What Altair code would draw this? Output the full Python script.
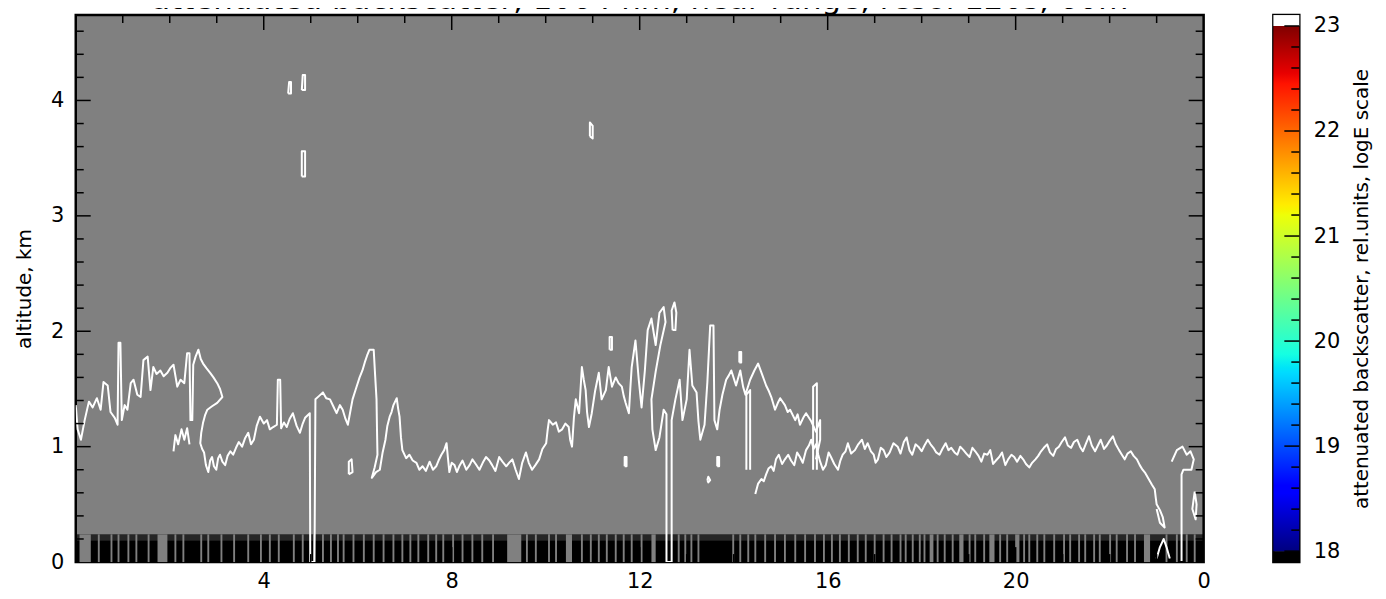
import altair as alt
import pandas as pd

TITLE = "attenuated backscatter, 1064 nm, near range, resol 120s, 60m"
Y_TITLE = "altitude, km"
CB_TITLE = "attenuated backscatter, rel.units, logE scale"

X_DOMAIN = [0, 24]
Y_DOMAIN = [0, 4.74]
CB_DOMAIN = [17.896, 23.104]

x_major = [0, 4, 8, 12, 16, 20, 24]
x_minor = [1, 2, 3, 5, 6, 7, 9, 10, 11, 13, 14, 15, 17, 18, 19, 21, 22, 23]
y_major = [0, 1, 2, 3, 4]
y_minor = [0.2, 0.4, 0.6, 0.8, 1.2, 1.4, 1.6, 1.8, 2.2, 2.4, 2.6, 2.8,
           3.2, 3.4, 3.6, 3.8, 4.2, 4.4, 4.6]
cb_major = [18, 19, 20, 21, 22, 23]
cb_minor = [18.2, 18.4, 18.6, 18.8, 19.2, 19.4, 19.6, 19.8, 20.2, 20.4, 20.6, 20.8,
            21.2, 21.4, 21.6, 21.8, 22.2, 22.4, 22.6, 22.8]

# near-ground strip of low (black) values, with gray (missing) columns
strip_top = 0.24
strip_fade = 0.19
gap_centers = [0.49, 0.76, 0.91, 1.12, 1.29, 1.55, 2.12, 2.29, 2.67, 2.82, 3.10, 3.37,
               3.67, 3.94, 4.13, 4.32, 4.64, 4.83, 5.07, 5.26, 5.43, 5.58, 5.70, 5.91,
               6.13, 6.34, 6.55, 6.76, 6.95, 7.12, 7.29, 7.50, 7.67, 7.82, 8.03, 8.23,
               8.44, 8.65, 8.88, 9.60, 9.79, 10.07, 10.22, 10.77, 10.96, 11.13, 11.30,
               11.49, 11.66, 11.83, 12.04, 12.83, 12.97, 13.10, 13.25, 13.99, 14.14,
               14.31, 14.46, 14.67, 14.88, 15.09, 15.31, 15.52, 15.73, 15.92, 16.09,
               16.26, 16.45, 16.64, 16.81, 17.00, 17.19, 17.36, 17.55, 17.66, 17.81,
               17.96, 18.06, 18.34, 18.49, 18.66, 19.02, 19.14, 19.33, 19.67, 19.82,
               20.18, 20.29, 20.46, 20.61, 20.82, 21.03, 21.16, 21.35, 21.48, 21.67,
               21.79, 22.01, 22.15, 22.37, 22.54, 23.21, 23.43, 23.64, 23.81]
gap_width = 0.04
wide_gap_start = [0.08, 1.74, 9.18, 10.43, 12.25, 18.17, 18.80, 19.44, 19.99, 22.73]
wide_gap_end = [0.32, 1.95, 9.48, 10.56, 12.34, 18.25, 18.89, 19.55, 20.08, 22.86]

# contour lines (hour, km)
contour_upper = [
    (0.00, 1.36), (0.04, 1.15), (0.11, 1.06), (0.19, 1.23), (0.28, 1.39), (0.36, 1.34),
    (0.45, 1.42), (0.53, 1.32), (0.59, 1.56), (0.68, 1.53), (0.74, 1.30), (0.83, 1.25),
    (0.89, 1.19), (0.91, 1.90), (0.95, 1.90), (0.98, 1.23), (1.04, 1.36), (1.10, 1.32),
    (1.17, 1.55), (1.23, 1.58), (1.31, 1.45), (1.38, 1.43), (1.44, 1.75), (1.53, 1.78),
    (1.59, 1.49), (1.65, 1.69), (1.72, 1.63), (1.80, 1.66), (1.87, 1.61), (1.95, 1.64),
    (2.01, 1.68), (2.08, 1.71), (2.16, 1.52), (2.23, 1.58), (2.31, 1.55), (2.37, 1.81),
    (2.42, 1.81), (2.44, 1.23), (2.48, 1.23), (2.50, 1.71), (2.55, 1.78), (2.61, 1.84),
    (2.66, 1.76), (2.71, 1.72), (2.78, 1.68), (2.86, 1.64), (2.93, 1.60), (3.01, 1.55),
    (3.07, 1.50), (3.12, 1.43), (3.01, 1.38), (2.90, 1.35), (2.80, 1.32), (2.75, 1.27),
    (2.71, 1.21), (2.67, 1.12), (2.65, 1.03), (2.69, 0.98), (2.73, 0.95), (2.77, 0.84),
    (2.82, 0.78), (2.86, 0.88), (2.90, 0.91), (2.94, 0.83), (2.99, 0.80), (3.03, 0.90),
    (3.07, 0.93), (3.12, 0.87), (3.18, 0.84), (3.23, 0.92), (3.29, 0.96), (3.35, 0.93),
    (3.41, 0.99), (3.47, 1.04), (3.54, 1.00), (3.60, 1.07), (3.67, 1.12), (3.73, 1.02),
    (3.79, 1.06), (3.85, 1.18), (3.92, 1.26), (4.00, 1.20), (4.07, 1.23), (4.13, 1.15),
    (4.20, 1.17), (4.28, 1.19), (4.30, 1.58), (4.35, 1.58), (4.37, 1.16), (4.43, 1.21),
    (4.49, 1.17), (4.55, 1.24), (4.62, 1.29), (4.70, 1.18), (4.77, 1.12), (4.83, 1.20),
    (4.88, 1.25), (4.98, 1.29), (4.99, 0.00), (5.08, 0.00), (5.10, 1.41), (5.18, 1.44),
    (5.26, 1.47), (5.33, 1.42), (5.41, 1.41), (5.48, 1.35), (5.55, 1.29), (5.62, 1.36),
    (5.68, 1.32), (5.74, 1.24), (5.79, 1.19), (5.84, 1.30), (5.89, 1.41), (5.96, 1.50),
    (6.04, 1.60), (6.10, 1.66), (6.15, 1.73), (6.20, 1.79), (6.25, 1.84), (6.34, 1.84),
    (6.37, 1.62), (6.40, 1.41), (6.41, 1.15), (6.42, 0.93), (6.36, 0.82), (6.30, 0.73),
    (6.39, 0.78), (6.47, 0.80), (6.53, 0.95), (6.59, 1.06), (6.63, 1.18), (6.68, 1.26),
    (6.72, 1.30), (6.76, 1.36), (6.83, 1.42), (6.86, 1.33), (6.89, 1.26), (6.92, 1.08),
    (6.95, 0.97), (7.03, 0.90), (7.10, 0.93), (7.17, 0.88), (7.25, 0.86), (7.31, 0.80),
    (7.38, 0.83), (7.45, 0.79), (7.53, 0.87), (7.60, 0.80), (7.67, 0.83), (7.72, 0.88),
    (7.78, 0.93), (7.84, 0.97), (7.89, 1.03), (7.92, 0.90), (7.95, 0.78), (8.00, 0.86),
    (8.06, 0.84), (8.11, 0.78), (8.16, 0.83), (8.23, 0.88), (8.31, 0.80), (8.38, 0.84),
    (8.44, 0.89), (8.51, 0.85), (8.59, 0.80), (8.66, 0.86), (8.73, 0.91), (8.80, 0.88),
    (8.86, 0.84), (8.93, 0.79), (9.01, 0.91), (9.08, 0.87), (9.16, 0.83), (9.22, 0.86),
    (9.29, 0.89), (9.36, 0.80), (9.43, 0.72), (9.50, 0.86), (9.58, 0.95), (9.64, 0.86),
    (9.71, 0.80), (9.78, 0.84), (9.86, 0.89), (9.93, 0.98), (10.01, 1.03), (10.04, 1.14),
    (10.07, 1.23), (10.15, 1.19), (10.22, 1.21), (10.28, 1.13), (10.35, 1.15),
    (10.42, 1.20), (10.49, 1.17), (10.52, 1.06), (10.56, 1.00), (10.60, 1.25),
    (10.64, 1.41), (10.71, 1.29), (10.77, 1.69), (10.81, 1.58), (10.85, 1.49),
    (10.88, 1.30), (10.92, 1.17), (10.98, 1.29), (11.05, 1.48), (11.13, 1.64),
    (11.19, 1.41), (11.28, 1.49), (11.34, 1.69), (11.41, 1.52), (11.49, 1.60),
    (11.55, 1.55), (11.62, 1.52), (11.66, 1.44), (11.70, 1.38), (11.77, 1.29),
    (11.80, 1.50), (11.83, 1.69), (11.91, 1.92), (11.98, 1.58), (12.04, 1.34),
    (12.11, 1.66), (12.17, 2.01), (12.25, 2.11), (12.34, 1.88), (12.42, 2.16),
    (12.51, 2.21), (12.55, 2.08), (12.44, 1.88), (12.34, 1.65), (12.25, 1.41),
    (12.27, 1.15), (12.34, 0.97), (12.42, 1.08), (12.51, 1.32), (12.57, 1.28),
    (12.57, 0.00), (12.68, 0.00), (12.68, 1.23), (12.76, 1.41), (12.85, 1.58),
    (12.91, 1.23), (13.00, 1.41), (13.06, 1.84), (13.12, 1.53), (13.21, 1.47),
    (13.25, 1.22), (13.29, 1.06), (13.38, 1.19), (13.44, 1.56), (13.50, 2.05),
    (13.57, 2.05), (13.59, 1.23), (13.65, 1.15), (13.70, 1.32), (13.76, 1.45),
    (13.84, 1.58), (13.90, 1.62), (13.95, 1.66), (14.05, 1.53), (14.14, 1.66),
    (14.20, 1.52), (14.25, 1.45), (14.35, 1.58), (14.44, 1.66), (14.52, 1.72),
    (14.61, 1.62), (14.69, 1.53), (14.75, 1.48), (14.80, 1.43), (14.88, 1.32),
    (14.94, 1.38), (14.99, 1.42), (15.09, 1.36), (15.15, 1.30), (15.20, 1.32),
    (15.31, 1.23), (15.36, 1.28), (15.41, 1.19), (15.48, 1.25), (15.54, 1.29),
    (15.65, 1.22), (15.75, 1.13), (15.84, 1.23), (15.84, 1.06), (15.75, 0.89),
]
contour_lower = [
    (14.46, 0.59), (14.52, 0.68), (14.59, 0.72), (14.64, 0.70), (14.69, 0.76),
    (14.74, 0.81), (14.80, 0.83), (14.85, 0.79), (14.90, 0.89), (14.96, 0.93),
    (15.03, 0.85), (15.09, 0.89), (15.16, 0.93), (15.22, 0.88), (15.29, 0.84),
    (15.35, 0.95), (15.41, 0.91), (15.47, 0.86), (15.54, 0.97), (15.60, 1.01),
    (15.65, 1.06), (15.70, 0.98), (15.75, 1.02), (15.80, 0.93), (15.84, 0.87),
    (15.90, 0.80), (15.96, 0.84), (16.02, 0.95), (16.07, 0.91), (16.14, 0.85),
    (16.22, 0.80), (16.27, 0.88), (16.32, 0.93), (16.38, 0.96), (16.43, 1.03),
    (16.50, 0.94), (16.58, 0.97), (16.65, 1.02), (16.73, 1.06), (16.79, 0.98),
    (16.85, 1.03), (16.92, 0.96), (16.98, 0.93), (17.02, 0.86), (17.07, 0.89),
    (17.13, 0.99), (17.19, 0.97), (17.25, 0.91), (17.32, 0.95), (17.40, 1.03),
    (17.49, 1.00), (17.55, 0.94), (17.62, 1.04), (17.68, 1.08), (17.74, 0.97),
    (17.80, 0.93), (17.87, 1.02), (17.93, 1.00), (18.00, 0.96), (18.06, 1.01),
    (18.13, 1.06), (18.19, 1.02), (18.25, 0.99), (18.31, 0.95), (18.38, 0.93),
    (18.44, 0.98), (18.51, 1.03), (18.57, 0.97), (18.63, 0.99), (18.70, 0.95),
    (18.76, 0.93), (18.82, 1.00), (18.89, 0.97), (18.95, 0.94), (19.02, 0.91),
    (19.08, 0.99), (19.14, 0.96), (19.21, 0.92), (19.27, 0.87), (19.33, 0.94),
    (19.40, 0.93), (19.46, 0.97), (19.52, 0.85), (19.58, 0.88), (19.65, 0.91),
    (19.71, 0.95), (19.78, 0.84), (19.84, 0.89), (19.91, 0.93), (19.97, 0.91),
    (20.03, 0.87), (20.10, 0.92), (20.16, 0.89), (20.22, 0.85), (20.29, 0.82),
    (20.35, 0.86), (20.42, 0.89), (20.48, 0.92), (20.54, 0.96), (20.60, 0.99),
    (20.67, 1.02), (20.73, 0.95), (20.80, 0.92), (20.86, 0.98), (20.92, 1.00),
    (20.98, 1.04), (21.05, 1.08), (21.11, 1.01), (21.18, 0.99), (21.24, 1.04),
    (21.31, 1.06), (21.37, 1.00), (21.43, 0.96), (21.50, 1.03), (21.56, 1.09),
    (21.62, 1.01), (21.69, 0.96), (21.75, 1.01), (21.81, 1.06), (21.88, 0.98),
    (21.94, 1.01), (22.00, 1.05), (22.07, 1.09), (22.13, 1.02), (22.20, 0.97),
    (22.26, 0.93), (22.32, 0.89), (22.38, 0.94), (22.45, 0.96), (22.51, 0.92),
    (22.58, 0.89), (22.64, 0.84), (22.70, 0.80), (22.76, 0.77), (22.83, 0.72),
    (22.90, 0.67), (22.96, 0.63), (22.98, 0.56), (23.00, 0.50), (23.07, 0.45),
    (23.13, 0.39), (23.17, 0.30), (23.07, 0.34), (23.00, 0.46),
]
contour_right = [(23.32, 0.87), (23.43, 0.97), (23.55, 1.00), (23.64, 0.93), (23.72, 0.96),
                 (23.79, 0.89), (23.74, 0.80), (23.57, 0.80), (23.53, 0.76), (23.53, 0.01)]
contour_right_base = [(23.00, 0.03), (23.07, 0.13), (23.15, 0.20), (23.21, 0.13), (23.28, 0.03)]
contour_right_edge = [(23.81, 0.61), (23.85, 0.50), (23.83, 0.37), (23.76, 0.46), (23.81, 0.61)]
contour_left_low = [(2.08, 0.96), (2.12, 1.10), (2.18, 1.02), (2.25, 1.15), (2.31, 1.06),
                    (2.37, 1.16), (2.42, 1.02)]
contour_small_1 = [(5.81, 0.76), (5.81, 0.87), (5.87, 0.89), (5.89, 0.78), (5.81, 0.76)]
contour_high_1 = [(4.52, 4.06), (4.54, 4.16), (4.58, 4.16), (4.58, 4.06), (4.52, 4.06)]
contour_high_2 = [(4.81, 4.09), (4.83, 4.22), (4.88, 4.22), (4.88, 4.09), (4.81, 4.09)]
contour_high_3 = [(4.81, 3.34), (4.81, 3.56), (4.88, 3.56), (4.88, 3.34), (4.81, 3.34)]
contour_high_4 = [(10.94, 3.69), (10.94, 3.81), (11.00, 3.78), (11.00, 3.67), (10.94, 3.69)]
contour_small_2 = [(11.36, 1.84), (11.36, 1.95), (11.41, 1.95), (11.41, 1.84), (11.36, 1.84)]
contour_small_3 = [(11.68, 0.83), (11.68, 0.91), (11.72, 0.91), (11.72, 0.83), (11.68, 0.83)]
contour_small_4 = [(14.12, 1.73), (14.12, 1.82), (14.16, 1.82), (14.16, 1.73), (14.12, 1.73)]
contour_small_5 = [(13.44, 0.71), (13.46, 0.74), (13.50, 0.71), (13.46, 0.69), (13.44, 0.71)]
contour_small_6 = [(13.65, 0.83), (13.65, 0.91), (13.69, 0.91), (13.69, 0.83), (13.65, 0.83)]
contour_loop_top = [(12.70, 2.01), (12.68, 2.18), (12.74, 2.25), (12.78, 2.16), (12.76, 2.01),
                    (12.70, 2.01)]
contour_spike_1 = [(15.69, 0.80), (15.69, 1.52), (15.77, 1.55), (15.77, 0.80)]
contour_spike_2 = [(14.27, 0.80), (14.27, 1.45), (14.35, 1.49), (14.35, 0.80)]

contour_segments = {
    "upper": contour_upper, "lower": contour_lower, "right": contour_right,
    "right_base": contour_right_base, "right_edge": contour_right_edge,
    "left_low": contour_left_low, "s1": contour_small_1, "h1": contour_high_1,
    "h2": contour_high_2, "h3": contour_high_3, "h4": contour_high_4,
    "s2": contour_small_2, "s3": contour_small_3, "s4": contour_small_4,
    "s5": contour_small_5, "s6": contour_small_6, "loop_top": contour_loop_top,
    "sp1": contour_spike_1, "sp2": contour_spike_2,
}

# jet colormap anchor points (position, colour)
jet_stops = [(0.0, "#000080"), (0.11, "#0000ff"), (0.125, "#0000ff"), (0.34, "#00dbff"),
             (0.35, "#00e5f7"), (0.375, "#15ffe2"), (0.64, "#eeff08"), (0.65, "#f7f500"),
             (0.66, "#ffec00"), (0.89, "#ff1300"), (0.91, "#e80000"), (1.0, "#800000")]

# ---------------------------------------------------------------- layout/style
W, H = 1132, 549
CBW = 26
MAJ, MIN = 15, 8
FONT = "DejaVu Sans"

rows = []
for name, pts in contour_segments.items():
    for i, (h, km) in enumerate(pts):
        rows.append({"seg": name, "i": i, "h": h, "km": km})
contour_df = pd.DataFrame(rows)

gaps = pd.DataFrame({
    "x0": [c - gap_width / 2 for c in gap_centers] + wide_gap_start,
    "x1": [c + gap_width / 2 for c in gap_centers] + wide_gap_end,
})
gaps["y0"] = 0.0
gaps["y1"] = strip_top

strip_solid = pd.DataFrame({"x0": [X_DOMAIN[0]], "x1": [X_DOMAIN[1]], "y0": [0.0], "y1": [strip_fade]})
strip_soft = pd.DataFrame({"x0": [X_DOMAIN[0]], "x1": [X_DOMAIN[1]], "y0": [strip_fade], "y1": [strip_top]})

xscale = alt.Scale(domain=X_DOMAIN, nice=False, zero=False)
yscale = alt.Scale(domain=Y_DOMAIN, nice=False, zero=False)

xaxis = alt.Axis(values=x_major, ticks=False, domain=False, grid=False, title=None,
                 labelExpr="datum.value == 0 ? '' : datum.value == 24 ? '0' : datum.label",
                 labelFontSize=21, labelPadding=9, labelFlush=False, labelOverlap=False,
                 labelColor="black", labelFont=FONT)
yaxis = alt.Axis(values=y_major, ticks=False, domain=False, grid=False, title=Y_TITLE,
                 labelFontSize=21, labelPadding=12, labelFlush=False, labelOverlap=False,
                 labelColor="black", labelFont=FONT, titleFont=FONT, titleFontSize=20,
                 titleFontWeight="normal", titlePadding=16, titleColor="black")

X = lambda f: alt.X(f, type="quantitative", scale=xscale, axis=xaxis)
Y = lambda f: alt.Y(f, type="quantitative", scale=yscale, axis=yaxis)

black_solid = alt.Chart(strip_solid).mark_rect(color="black").encode(
    x=X("x0"), x2="x1", y=Y("y0"), y2="y1")
black_soft = alt.Chart(strip_soft).mark_rect(color="black", opacity=0.7).encode(
    x=X("x0"), x2="x1", y=Y("y0"), y2="y1")
gap_layer = alt.Chart(gaps).mark_rect(color="#808080").encode(
    x=X("x0"), x2="x1", y=Y("y0"), y2="y1")

lines = alt.Chart(contour_df).mark_line(color="white", strokeWidth=2, clip=True,
                                         strokeJoin="round").encode(
    x=X("h"), y=Y("km"), detail="seg:N", order="i:Q")

def xticks(vals, length):
    df = pd.DataFrame({"v": vals})
    bot = alt.Chart(df).mark_rule(color="black", strokeWidth=1.5).encode(
        x=X("v"), y=alt.value(H), y2=alt.value(H - length))
    top = alt.Chart(df).mark_rule(color="black", strokeWidth=1.5).encode(
        x=X("v"), y=alt.value(0), y2=alt.value(length))
    return [bot, top]

def yticks(vals, length):
    df = pd.DataFrame({"v": vals})
    left = alt.Chart(df).mark_rule(color="black", strokeWidth=1.5).encode(
        y=Y("v"), x=alt.value(0), x2=alt.value(length))
    right = alt.Chart(df).mark_rule(color="black", strokeWidth=1.5).encode(
        y=Y("v"), x=alt.value(W), x2=alt.value(W - length))
    return [left, right]

main = alt.layer(
    black_solid, black_soft, gap_layer, lines,
    *xticks(x_major[1:-1], MAJ), *xticks(x_minor, MIN),
    *yticks(y_major[1:], MAJ), *yticks(y_minor, MIN),
).properties(
    width=W, height=H,
    title=alt.TitleParams(TITLE, fontSize=31, fontWeight="normal", font=FONT,
                          anchor="middle", baseline="alphabetic", offset=-26, color="black"),
)

# ---------------------------------------------------------------- colour bar
cbscale = alt.Scale(domain=CB_DOMAIN, nice=False, zero=False)
cbaxis = alt.Axis(orient="right", values=cb_major, ticks=False, domain=False, grid=False,
                  title=CB_TITLE, titleAngle=270, titleBaseline="top", titleFontSize=20,
                  titleFontWeight="normal", titleFont=FONT, titleColor="black",
                  titlePadding=12, labelFontSize=21, labelPadding=14, labelFlush=False,
                  labelOverlap=False, labelColor="black", labelFont=FONT)
CX = lambda f: alt.X(f, type="quantitative", scale=alt.Scale(domain=[0, 1], nice=False),
                     axis=None)
CY = lambda f: alt.Y(f, type="quantitative", scale=cbscale, axis=cbaxis)

cb_under = pd.DataFrame({"x0": [0], "x1": [1], "y0": [CB_DOMAIN[0]], "y1": [cb_major[0]]})
cb_main = pd.DataFrame({"x0": [0], "x1": [1], "y0": [cb_major[0]], "y1": [cb_major[-1]]})
cb_over = pd.DataFrame({"x0": [0], "x1": [1], "y0": [cb_major[-1]], "y1": [CB_DOMAIN[1]]})

grad = alt.Gradient(gradient="linear", x1=0, x2=0, y1=1, y2=0,
                    stops=[alt.GradientStop(offset=o, color=c) for o, c in jet_stops])

cb_layers = [
    alt.Chart(cb_under).mark_rect(color="black").encode(x=CX("x0"), x2="x1", y=CY("y0"), y2="y1"),
    alt.Chart(cb_main).mark_rect(color=grad).encode(x=CX("x0"), x2="x1", y=CY("y0"), y2="y1"),
    alt.Chart(cb_over).mark_rect(color="white").encode(x=CX("x0"), x2="x1", y=CY("y0"), y2="y1"),
]
for vals, length in ((cb_major, MAJ), (cb_minor, MIN)):
    df = pd.DataFrame({"v": vals})
    cb_layers.append(alt.Chart(df).mark_rule(color="black", strokeWidth=1.5).encode(
        y=CY("v"), x=alt.value(CBW), x2=alt.value(CBW - length)))

colorbar = alt.layer(*cb_layers).properties(width=CBW, height=H)

chart = alt.hconcat(main, colorbar, spacing=70, bounds="flush").properties(
    padding={"left": 5, "top": -26, "right": 5, "bottom": 5}
).configure(
    font=FONT, background="white"
).configure_view(
    fill="#808080", stroke="black", strokeWidth=2.5
)

chart.save("out.html", embed_options={"renderer": "svg", "actions": False})
